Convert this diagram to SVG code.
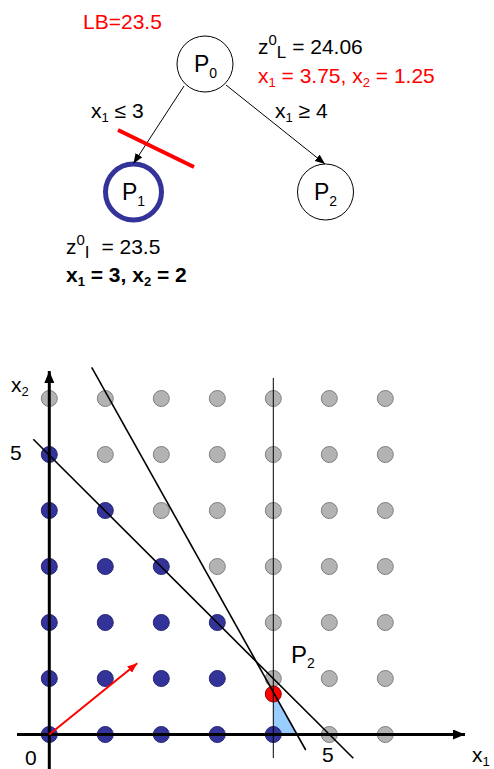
<svg xmlns="http://www.w3.org/2000/svg" width="494" height="769" viewBox="0 0 494 769">
<defs>
<marker id="ah" markerWidth="10" markerHeight="8" refX="10" refY="4" orient="auto" markerUnits="userSpaceOnUse"><path d="M0,0 L10,4 L0,8 Z" fill="#000"/></marker>
<marker id="ahr" markerWidth="10" markerHeight="8" refX="10" refY="4" orient="auto" markerUnits="userSpaceOnUse"><path d="M0,0 L10,4 L0,8 Z" fill="#ff0000"/></marker>
<marker id="ax" markerWidth="14" markerHeight="10" refX="12" refY="5" orient="auto" markerUnits="userSpaceOnUse"><path d="M0,0 L12,5 L0,10 Z" fill="#000"/></marker>
</defs>
<style>
text{font-family:"Liberation Sans",Arial,sans-serif;font-size:21px;fill:#000}
.red{fill:#ff0000}
.b{font-weight:bold}
.node{fill:#fff;stroke:#000;stroke-width:1}
.g{fill:#b3b3b3;stroke:#808080;stroke-width:1}
.n{fill:#333399;stroke:#26267a;stroke-width:1}
.edge{stroke:#000;stroke-width:1;fill:none}
</style>
<text x="83" y="29" class="red">LB=23.5</text>
<g id="P0">
<circle cx="205" cy="64" r="28" class="node"/>
<text x="194" y="72" style="font-size:23px">P<tspan style="font-size:14px" dy="6">0</tspan></text>
</g>
<g id="P1">
<circle cx="133.5" cy="192" r="28" fill="#fff" stroke="#333399" stroke-width="5"/>
<text x="122" y="200" style="font-size:23px">P<tspan style="font-size:14px" dy="6">1</tspan></text>
</g>
<g id="P2">
<circle cx="325.5" cy="192" r="28" class="node"/>
<text x="314" y="200" style="font-size:23px">P<tspan style="font-size:14px" dy="6">2</tspan></text>
</g>
<g id="connectors">
<line x1="184" y1="86" x2="133.5" y2="163.5" class="edge" marker-end="url(#ah)"/>
<line x1="226" y1="85" x2="325" y2="164" class="edge" marker-end="url(#ah)"/>
</g>
<line x1="118" y1="130" x2="194" y2="167" stroke="#ff0000" stroke-width="4"/>
<text x="91" y="118">x<tspan style="font-size:13px" dy="4">1</tspan><tspan dy="-4"> ≤ 3</tspan></text>
<text x="275" y="118">x<tspan style="font-size:13px" dy="4">1</tspan><tspan dy="-4"> ≥ 4</tspan></text>
<text x="258" y="54">z<tspan style="font-size:15px" dy="-9">0</tspan><tspan style="font-size:17px" dy="13">L</tspan><tspan dy="-4"> = 24.06</tspan></text>
<text x="258" y="83" class="red">x<tspan style="font-size:13px" dy="4">1</tspan><tspan dy="-4"> = 3.75, x</tspan><tspan style="font-size:13px" dy="4">2</tspan><tspan dy="-4"> = 1.25</tspan></text>
<text x="66" y="254">z<tspan style="font-size:15px" dy="-9">0</tspan><tspan style="font-size:17px" dy="13">I</tspan><tspan dy="-4" dx="6"> = 23.5</tspan></text>
<text x="66" y="282" class="b">x<tspan style="font-size:13px" dy="4">1</tspan><tspan dy="-4"> = 3, x</tspan><tspan style="font-size:13px" dy="4">2</tspan><tspan dy="-4"> = 2</tspan></text>
<polygon points="273.3,692 273.3,734.5 296.8,734.5" fill="#99ccff"/>
<g id="dots">
<circle cx="49.3" cy="398.5" r="8" class="g"/><circle cx="105.3" cy="398.5" r="8" class="g"/><circle cx="161.3" cy="398.5" r="8" class="g"/><circle cx="217.3" cy="398.5" r="8" class="g"/><circle cx="273.3" cy="398.5" r="8" class="g"/><circle cx="329.3" cy="398.5" r="8" class="g"/><circle cx="385.3" cy="398.5" r="8" class="g"/>
<circle cx="49.3" cy="454.5" r="8" class="n"/><circle cx="105.3" cy="454.5" r="8" class="g"/><circle cx="161.3" cy="454.5" r="8" class="g"/><circle cx="217.3" cy="454.5" r="8" class="g"/><circle cx="273.3" cy="454.5" r="8" class="g"/><circle cx="329.3" cy="454.5" r="8" class="g"/><circle cx="385.3" cy="454.5" r="8" class="g"/>
<circle cx="49.3" cy="510.5" r="8" class="n"/><circle cx="105.3" cy="510.5" r="8" class="n"/><circle cx="161.3" cy="510.5" r="8" class="g"/><circle cx="217.3" cy="510.5" r="8" class="g"/><circle cx="273.3" cy="510.5" r="8" class="g"/><circle cx="329.3" cy="510.5" r="8" class="g"/><circle cx="385.3" cy="510.5" r="8" class="g"/>
<circle cx="49.3" cy="566.5" r="8" class="n"/><circle cx="105.3" cy="566.5" r="8" class="n"/><circle cx="161.3" cy="566.5" r="8" class="n"/><circle cx="217.3" cy="566.5" r="8" class="g"/><circle cx="273.3" cy="566.5" r="8" class="g"/><circle cx="329.3" cy="566.5" r="8" class="g"/><circle cx="385.3" cy="566.5" r="8" class="g"/>
<circle cx="49.3" cy="622.5" r="8" class="n"/><circle cx="105.3" cy="622.5" r="8" class="n"/><circle cx="161.3" cy="622.5" r="8" class="n"/><circle cx="217.3" cy="622.5" r="8" class="n"/><circle cx="273.3" cy="622.5" r="8" class="g"/><circle cx="329.3" cy="622.5" r="8" class="g"/><circle cx="385.3" cy="622.5" r="8" class="g"/>
<circle cx="49.3" cy="678.5" r="8" class="n"/><circle cx="105.3" cy="678.5" r="8" class="n"/><circle cx="161.3" cy="678.5" r="8" class="n"/><circle cx="217.3" cy="678.5" r="8" class="n"/><circle cx="273.3" cy="678.5" r="8" class="g"/><circle cx="329.3" cy="678.5" r="8" class="g"/><circle cx="385.3" cy="678.5" r="8" class="g"/>
<circle cx="49.3" cy="734.5" r="8" class="n"/><circle cx="105.3" cy="734.5" r="8" class="n"/><circle cx="161.3" cy="734.5" r="8" class="n"/><circle cx="217.3" cy="734.5" r="8" class="n"/><circle cx="273.3" cy="734.5" r="8" class="n"/><circle cx="329.3" cy="734.5" r="8" class="g"/><circle cx="385.3" cy="734.5" r="8" class="g"/>
<circle cx="273.3" cy="694" r="8" fill="#ff0000" stroke="#990000" stroke-width="1"/>
</g>
<line x1="273.3" y1="378" x2="273.3" y2="758" stroke="#000" stroke-width="1"/>
<line x1="33.3" y1="439.3" x2="353.3" y2="758.3" stroke="#000" stroke-width="1.6"/>
<line x1="91.7" y1="367.3" x2="305.7" y2="750" stroke="#000" stroke-width="1.6"/>
<line x1="17" y1="734.5" x2="465" y2="734.5" stroke="#000" stroke-width="3" marker-end="url(#ax)"/>
<line x1="49.3" y1="769" x2="49.3" y2="371" stroke="#000" stroke-width="3" marker-end="url(#ax)"/>
<line x1="49.3" y1="734.5" x2="137.3" y2="663.3" stroke="#ff0000" stroke-width="2" marker-end="url(#ahr)"/>
<text x="11" y="392">x<tspan style="font-size:13px" dy="4">2</tspan></text>
<text x="10" y="460">5</text>
<text x="25" y="765">0</text>
<text x="322" y="762">5</text>
<text x="472" y="762">x<tspan style="font-size:13px" dy="4">1</tspan></text>
<text x="291" y="663" style="font-size:24px">P<tspan style="font-size:14px" dy="5">2</tspan></text>
</svg>
